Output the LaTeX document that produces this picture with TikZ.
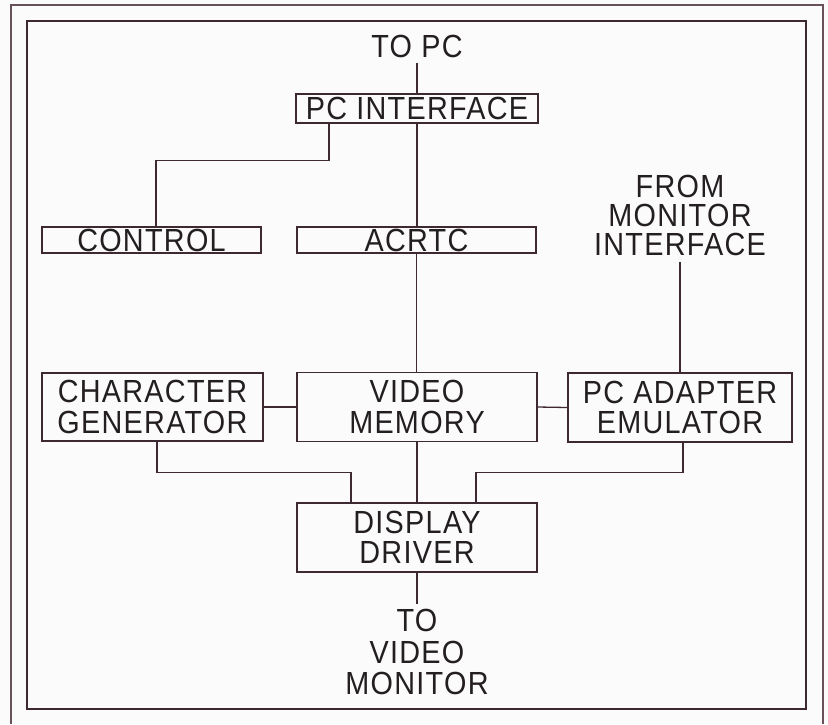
\documentclass[tikz,border=0pt]{standalone}
\usepackage{fontspec}
\setmainfont{Liberation Sans}[FakeStretch=0.9, LetterSpace=4]
\definecolor{ln}{RGB}{62,40,50}
\definecolor{fr}{RGB}{105,80,90}
\definecolor{txt}{RGB}{35,30,32}
\definecolor{bg}{RGB}{251,251,251}
\begin{document}
\begin{tikzpicture}[x=1pt,y=-1pt,
  lbl/.style={font=\fontsize{32}{30.5}\selectfont, text=txt, inner sep=0pt, align=center},
  blk/.style={lbl, draw=ln, line width=1.4pt},
  wire/.style={draw=ln, line width=1.3pt}]
\useasboundingbox (0,0) rectangle (828,724);
\fill[bg] (0,0) rectangle (828,724);
% frames
\draw[fr, line width=1.3pt] (11,724) -- (11,5) -- (823,5) -- (823,724);
\draw[ln, line width=1.8pt] (27,21) rectangle (806,709);
% blocks
\node[blk, minimum width=242pt, minimum height=29pt] (pci) at (417,108.5) {PC INTERFACE};
\node[blk, minimum width=219pt, minimum height=26pt] (control) at (151.5,240) {CONTROL};
\node[blk, minimum width=239pt, minimum height=26pt] (acrtc) at (416.5,240) {ACRTC};
\node[blk, minimum width=221pt, minimum height=68pt] (cg) at (152.5,407) {CHARACTER\\GENERATOR};
\node[blk, minimum width=240pt, minimum height=69pt] (vm) at (417,407) {VIDEO\\MEMORY};
\node[blk, minimum width=224pt, minimum height=69pt] (pca) at (680,407.5) {PC ADAPTER\\EMULATOR};
\node[blk, minimum width=240pt, minimum height=69pt] (dd) at (417,537.5) {DISPLAY\\DRIVER};
% free labels
\node[lbl, anchor=base] (topc) at (417,57) {TO PC};
\node[lbl, font=\fontsize{32}{29}\selectfont, anchor=north] (frommon) at (680,175) {FROM\\MONITOR\\INTERFACE};
\node[lbl, font=\fontsize{32}{31.5}\selectfont, anchor=north] (tovm) at (417,609) {TO\\VIDEO\\MONITOR};
% connectors
\draw[wire] ([yshift=-5pt]topc.south) -- (pci.north);
\draw[wire] ([xshift=-88pt]pci.south) -- ++(0,37) -| ([xshift=4.5pt]control.north);
\draw[wire] (pci.south) -- (pci.south |- acrtc.north);
\draw[wire] (acrtc.south) -- (acrtc.south |- vm.north);
\draw[wire] ([yshift=-6pt]frommon.south) -- (pca.north);
\draw[wire] (cg.east) -- (vm.west);
\draw[wire] (vm.east) -- (pca.west);
\draw[wire] ([xshift=4.5pt]cg.south) -- ++(0,31) -| ([xshift=-66pt]dd.north);
\draw[wire] (vm.south) -- (dd.north);
\draw[wire] ([xshift=3pt]pca.south) -- ++(0,30) -| ([xshift=59pt]dd.north);
\draw[wire] (dd.south) -- ([yshift=5pt]tovm.north);
\end{tikzpicture}
\end{document}
